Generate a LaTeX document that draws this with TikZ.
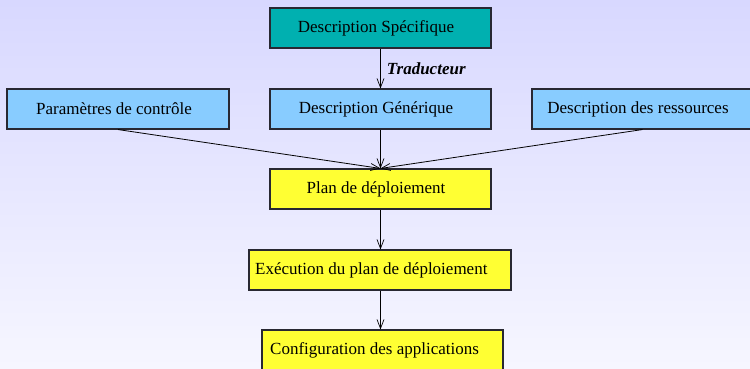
\documentclass[tikz,border=0pt]{standalone}
\usepackage{fontspec}
\setmainfont{Liberation Serif}
\usetikzlibrary{arrows.meta}
\definecolor{bgtop}{RGB}{216,216,255}
\definecolor{bgbot}{RGB}{246,246,255}
\definecolor{tealbox}{RGB}{0,176,176}
\definecolor{bluebox}{RGB}{136,204,255}
\definecolor{yellowbox}{RGB}{255,255,51}
\definecolor{edge}{RGB}{40,40,50}
\tikzset{
  box/.style={draw=edge, line width=1.1pt, minimum height=40pt, inner sep=0pt},
  lbl/.style={inner sep=0pt, font=\fontsize{17}{20}\selectfont},
  conn/.style={draw=black, line width=0.8pt, -{Straight Barb[length=9pt, width=7pt, line width=0.7pt]}}
}
\begin{document}
\begin{tikzpicture}[x=1pt,y=1pt]
\useasboundingbox (0,0) rectangle (750,368);
\clip (0,0) rectangle (750,368);
\shade[top color=bgtop, bottom color=bgbot] (0,0) rectangle (750,368);
% boxes
\node[box, fill=tealbox, minimum width=221pt] (spec) at (380.5,340) {};
\node[box, fill=bluebox, minimum width=221pt] (gen) at (380.5,259) {};
\node[box, fill=bluebox, minimum width=222pt] (param) at (118,259) {};
\node[box, fill=bluebox, minimum width=221pt] (ress) at (642.5,259) {};
\node[box, fill=yellowbox, minimum width=221pt] (plan) at (380.5,179) {};
\node[box, fill=yellowbox, minimum width=262pt] (exec) at (380,98) {};
\node[box, fill=yellowbox, minimum width=241pt] (conf) at (382.5,18) {};
% texts
\node[lbl] (tspec) at (376,340) {Description Spécifique};
\node[lbl] (tgen) at (376,259) {Description Générique};
\node[lbl] (tparam) at (114,259) {Paramètres de contrôle};
\node[lbl] (tress) at (638,259) {Description des ressources};
\node[lbl] (tplan) at (376,179) {Plan de déploiement};
\node[lbl, anchor=west] (texec) at (255,98) {Exécution du plan de déploiement};
\node[lbl, anchor=west] (tconf) at (270,18) {Configuration des applications};
% connectors
\draw[conn] (spec.south) -- node[right=6pt, lbl, font=\fontsize{17}{20}\selectfont\bfseries\itshape] (trad) {Traducteur} (gen.north);
\draw[conn] (param.south) -- (plan.north);
\draw[conn] (gen.south) -- (plan.north);
\draw[conn] (ress.south) -- (plan.north);
\draw[conn] (plan.south) -- (plan.south |- exec.north);
\draw[conn] (plan.south |- exec.south) -- (plan.south |- conf.north);
\end{tikzpicture}
\end{document}
